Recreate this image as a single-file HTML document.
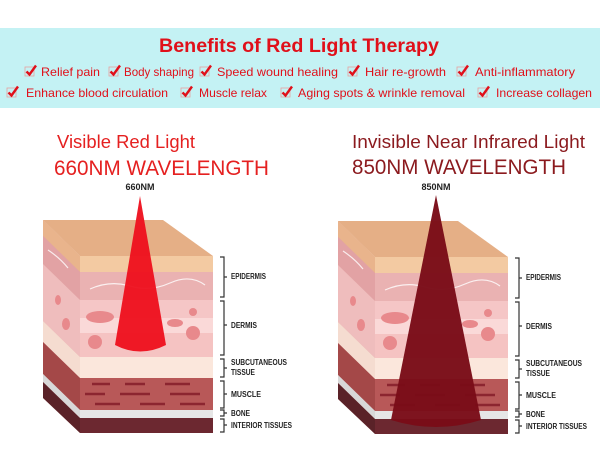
<!DOCTYPE html>
<html><head><meta charset="utf-8"><style>
html,body{margin:0;padding:0;background:#fff;width:600px;height:450px;overflow:hidden}
svg{display:block;font-family:"Liberation Sans",sans-serif}
</style></head><body>
<svg width="600" height="450" viewBox="0 0 600 450">
<defs>
<g id="chk"><rect x="0" y="2" width="9" height="9" fill="none" stroke="#e8a0a0" stroke-width="0.8"/><path d="M1.5 6.5 L4.5 9.5 L11 0.5" fill="none" stroke="#e0101a" stroke-width="2.4"/></g>
<g id="block">
  <polygon points="43,220 80,256 80,433 43,398" fill="#e3a3a3"/>
  <polygon points="43,220 80,256 80,272 43,236" fill="#e9b48c"/>
  <polygon points="43,236 80,272 80,300 43,264" fill="#e2a2a4"/>
  <polygon points="43,264 80,300 80,357 43,321" fill="#efbdbd"/>
  <polygon points="43,321 80,357 80,378 43,342" fill="#f5dcd0"/>
  <polygon points="43,342 80,378 80,410 43,374" fill="#a44848"/>
  <polygon points="43,374 80,410 80,418 43,382" fill="#d8d8d8"/>
  <polygon points="43,382 80,418 80,433 43,398" fill="#5a2228"/>
  <polygon points="43,220 163,220 213,256 80,256" fill="#e5af86"/>
  <rect x="80" y="256" width="133" height="16" fill="#f3caa2"/>
  <rect x="80" y="272" width="133" height="28" fill="#eab2b2"/>
  <rect x="80" y="300" width="133" height="18" fill="#f5c6c6"/>
  <rect x="80" y="318" width="133" height="15" fill="#fad9d8"/>
  <rect x="80" y="333" width="133" height="24" fill="#f5c3c2"/>
  <rect x="80" y="357" width="133" height="21" fill="#fbe7dc"/>
  <rect x="80" y="378" width="133" height="32" fill="#b85858"/>
  <rect x="80" y="410" width="133" height="8" fill="#e6e6e6"/>
  <rect x="80" y="418" width="133" height="15" fill="#6c2830"/>
  <path d="M90 289 Q110 280 130 286 T170 283 T205 285" fill="none" stroke="#fff" stroke-width="1.2" opacity="0.8"/>
  <path d="M48 250 Q60 258 68 268" fill="none" stroke="#fff" stroke-width="1.2" opacity="0.8"/>
  <ellipse cx="100" cy="317" rx="14" ry="6" fill="#e8898c"/>
  <ellipse cx="175" cy="323" rx="8" ry="4" fill="#e8898c"/>
  <circle cx="193" cy="312" r="4" fill="#e8898c"/>
  <circle cx="193" cy="333" r="7" fill="#e8898c"/>
  <circle cx="95" cy="342" r="7" fill="#e8898c"/>
  <ellipse cx="66" cy="324" rx="4" ry="6" fill="#e8898c"/>
  <ellipse cx="58" cy="300" rx="3" ry="5" fill="#e8898c"/>
  <g stroke="#8c2530" stroke-width="2.5">
   <line x1="92" y1="384" x2="110" y2="384"/><line x1="125" y1="384" x2="145" y2="384"/><line x1="165" y1="384" x2="190" y2="384"/>
   <line x1="85" y1="394" x2="105" y2="394"/><line x1="120" y1="394" x2="150" y2="394"/><line x1="170" y1="394" x2="200" y2="394"/>
   <line x1="95" y1="404" x2="120" y2="404"/><line x1="140" y1="404" x2="165" y2="404"/><line x1="180" y1="404" x2="205" y2="404"/>
  </g>
  <g fill="none" stroke="#333" stroke-width="1.2">
   <path d="M220 257 H224 V297 H220 M224 277 H227"/>
   <path d="M220 301 H224 V355 H220 M224 325 H227"/>
   <path d="M220 359 H224 V377 H220 M224 368 H227"/>
   <path d="M220 381 H224 V408 H220 M224 394 H227"/>
   <path d="M220 410 H224 V416 H220 M224 413 H227"/>
   <path d="M220 419 H224 V432 H220 M224 425 H227"/>
  </g>
  <g font-size="8" fill="#222" font-weight="bold">
   <text x="231" y="279" textLength="35" lengthAdjust="spacingAndGlyphs">EPIDERMIS</text>
   <text x="231" y="328" textLength="26" lengthAdjust="spacingAndGlyphs">DERMIS</text>
   <text x="231" y="365" textLength="56" lengthAdjust="spacingAndGlyphs">SUBCUTANEOUS</text>
   <text x="231" y="375" textLength="24" lengthAdjust="spacingAndGlyphs">TISSUE</text>
   <text x="231" y="397" textLength="30" lengthAdjust="spacingAndGlyphs">MUSCLE</text>
   <text x="231" y="416" textLength="19" lengthAdjust="spacingAndGlyphs">BONE</text>
   <text x="231" y="428" textLength="61" lengthAdjust="spacingAndGlyphs">INTERIOR TISSUES</text>
  </g>
</g>
</defs>
<rect x="0" y="28" width="600" height="80" fill="#c4f2f4"/>
<text x="299" y="52" text-anchor="middle" font-size="19" font-weight="bold" fill="#e0101a" textLength="280" lengthAdjust="spacingAndGlyphs">Benefits of Red Light Therapy</text>
<g font-size="12" fill="#e0101a">
 <use href="#chk" x="25" y="65"/><text x="41" y="76" textLength="59" lengthAdjust="spacingAndGlyphs">Relief pain</text>
 <use href="#chk" x="109" y="65"/><text x="124" y="76" textLength="70" lengthAdjust="spacingAndGlyphs">Body shaping</text>
 <use href="#chk" x="200" y="65"/><text x="217" y="76" textLength="121" lengthAdjust="spacingAndGlyphs">Speed wound healing</text>
 <use href="#chk" x="348" y="65"/><text x="365" y="76" textLength="81" lengthAdjust="spacingAndGlyphs">Hair re-growth</text>
 <use href="#chk" x="457" y="65"/><text x="475" y="76" textLength="100" lengthAdjust="spacingAndGlyphs">Anti-inflammatory</text>
 <use href="#chk" x="7" y="86"/><text x="26" y="97" textLength="142" lengthAdjust="spacingAndGlyphs">Enhance blood circulation</text>
 <use href="#chk" x="181" y="86"/><text x="199" y="97" textLength="68" lengthAdjust="spacingAndGlyphs">Muscle relax</text>
 <use href="#chk" x="281" y="86"/><text x="298" y="97" textLength="167" lengthAdjust="spacingAndGlyphs">Aging spots &amp; wrinkle removal</text>
 <use href="#chk" x="478" y="86"/><text x="496" y="97" textLength="96" lengthAdjust="spacingAndGlyphs">Increase collagen</text>
</g>
<text x="57" y="148" font-size="18" fill="#e52020" textLength="138" lengthAdjust="spacingAndGlyphs">Visible Red Light</text>
<text x="54" y="175" font-size="21" fill="#e52020" textLength="215" lengthAdjust="spacingAndGlyphs">660NM WAVELENGTH</text>
<text x="352" y="148" font-size="18" fill="#8b1a1e" textLength="233" lengthAdjust="spacingAndGlyphs">Invisible Near Infrared Light</text>
<text x="352" y="174" font-size="21" fill="#8b1a1e" textLength="214" lengthAdjust="spacingAndGlyphs">850NM WAVELENGTH</text>

<use href="#block"/>
<use href="#block" x="295" y="1"/>

<text x="140" y="190" text-anchor="middle" font-size="9" font-weight="bold" fill="#222">660NM</text>
<path d="M140 196 L115 345 Q140 358 166 345 Z" fill="#ee0f1c" opacity="0.95"/>
<text x="436" y="190" text-anchor="middle" font-size="9" font-weight="bold" fill="#222">850NM</text>
<path d="M436 195 L391 420 Q436 434 481 420 Z" fill="#7a0c18" opacity="0.97"/>
</svg>
</body></html>
